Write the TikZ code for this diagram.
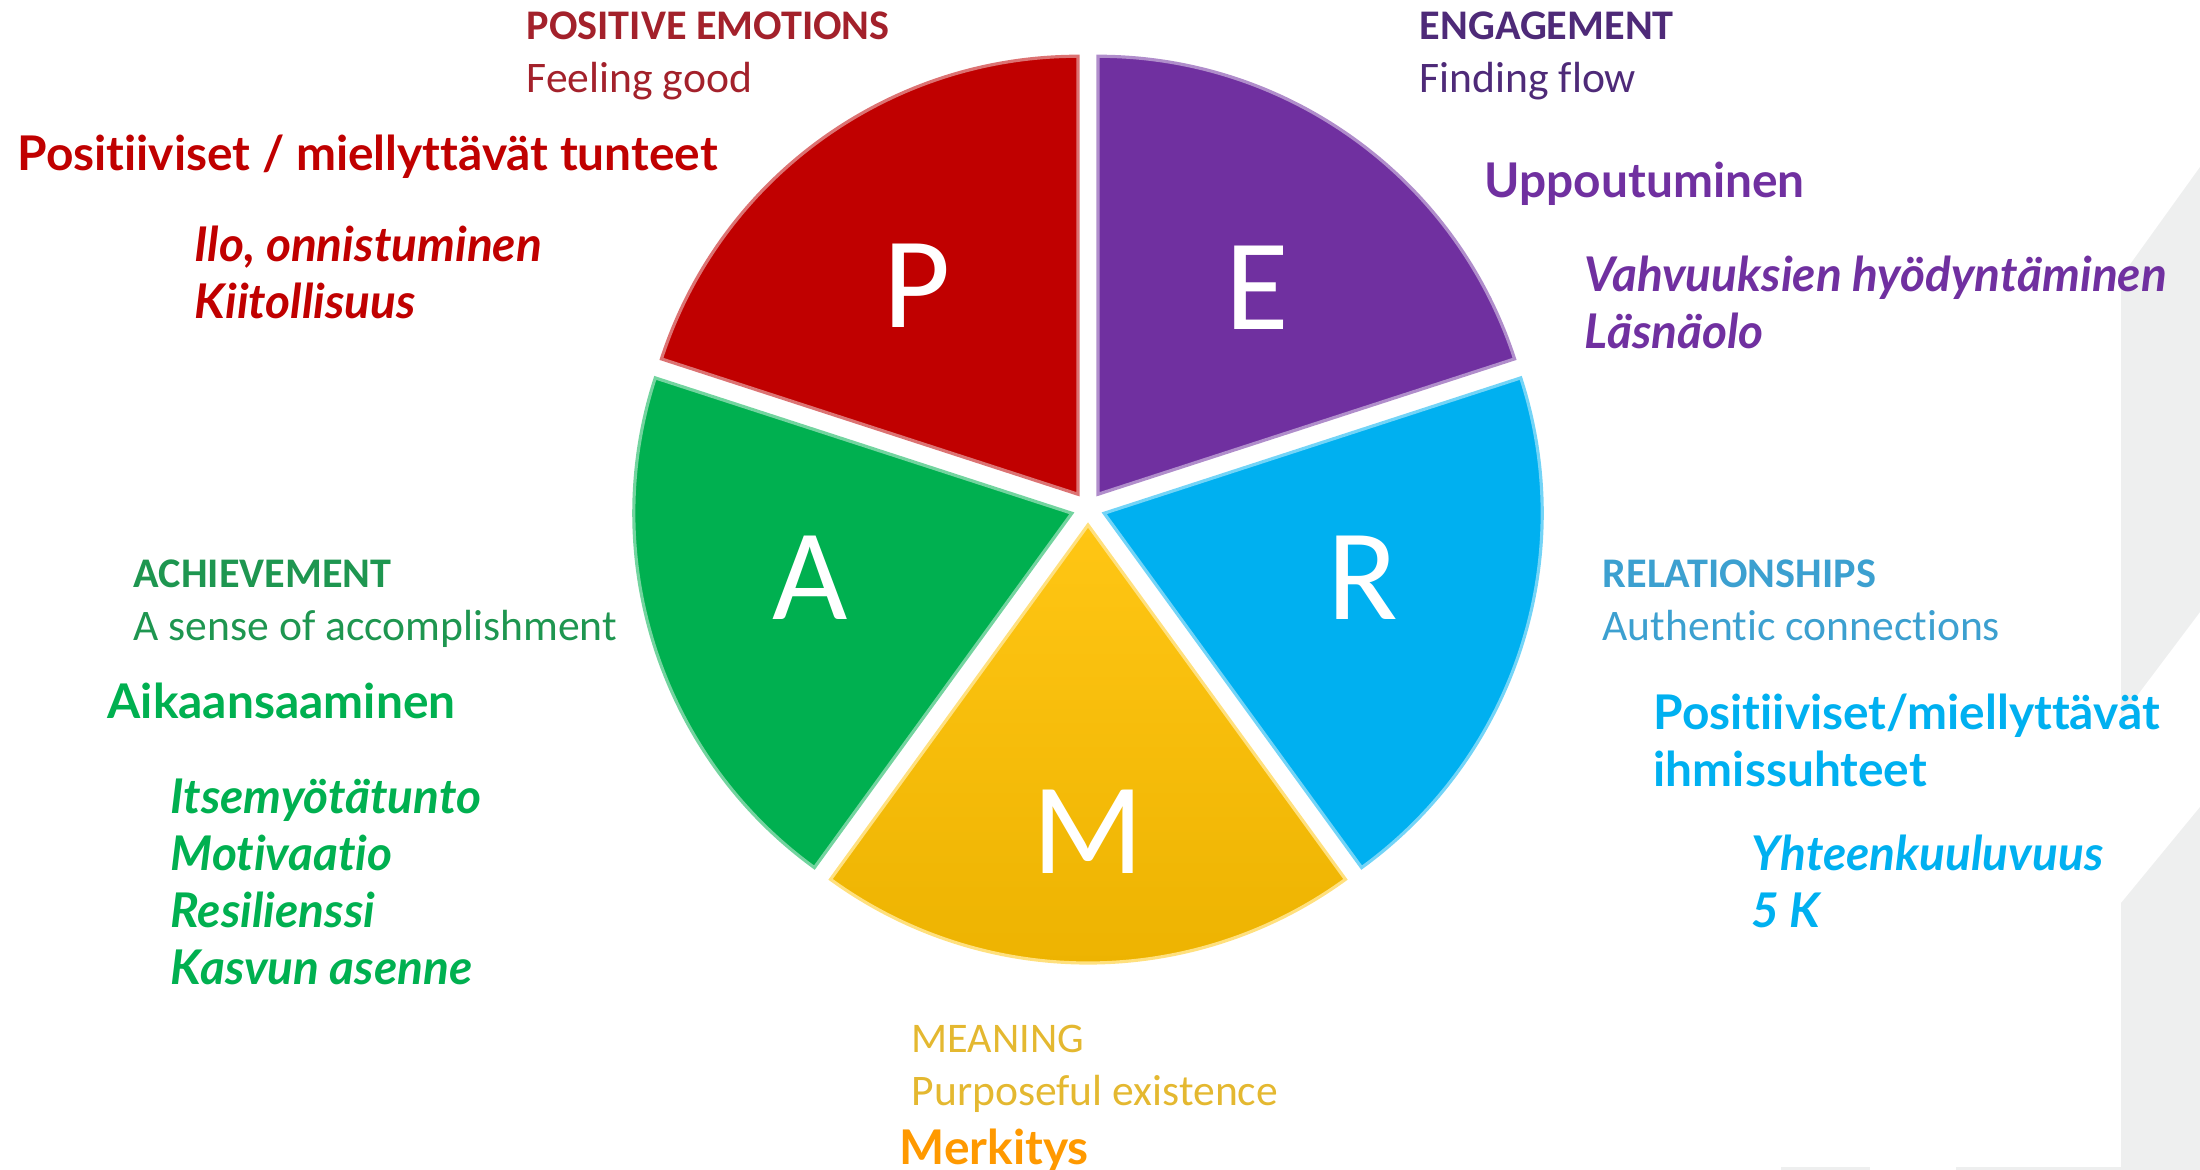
\documentclass[tikz,border=0pt]{standalone}
\usepackage{fontspec}
\setmainfont{Carlito}[Ligatures=NoCommon]
\newfontfamily\latofont{Lato}[Ligatures=NoCommon]
\usetikzlibrary{calc}
\definecolor{pcolor}{RGB}{192,0,0}
\definecolor{ecolor}{RGB}{112,48,160}
\definecolor{rcolor}{RGB}{0,176,240}
\definecolor{mcolor}{RGB}{255,198,20}
\definecolor{mdark}{RGB}{236,178,0}
\definecolor{acolor}{RGB}{0,176,80}
\definecolor{merkcolor}{RGB}{255,153,0}
\definecolor{phead}{RGB}{163,33,43}
\definecolor{ehead}{RGB}{78,42,120}
\definecolor{ahead}{RGB}{30,150,80}
\definecolor{rhead}{RGB}{60,160,208}
\definecolor{mhead}{RGB}{228,184,48}
\definecolor{logogray}{RGB}{238,239,239}

\begin{document}
\begin{tikzpicture}[
    x=0.01cm, y=-0.01cm,
    slice/.style={draw=#1!55!white, line width=0.9pt, fill=#1},
    letter/.style={text=white, font=\fontsize{37}{40}\selectfont},
    head/.style={anchor=base west, inner sep=0, font=\bfseries\fontsize{12}{14}\selectfont},
    sub/.style={anchor=base west, inner sep=0, font=\fontsize{12.4}{14}\selectfont},
    fin/.style={anchor=base west, inner sep=0, align=left, font=\latofont\bfseries\fontsize{13.6}{16.2}\selectfont},
    finit/.style={fin, font=\latofont\bfseries\itshape\fontsize{13.6}{16.2}\selectfont}
]
    \useasboundingbox (0,0) rectangle (2200,1170);

    % Grey logo shapes at the right edge
    \fill[logogray] (2121,277) -- (2200,167) -- (2200,612) -- (2121,717) -- cycle;
    \fill[logogray] (2121,903) -- (2200,807) -- (2200,1170) -- (2121,1170) -- cycle;
    \fill[logogray] (1956,1167) rectangle (2121,1170);
    \fill[logogray] (1781,1167) rectangle (1870,1170);

    % PERMA pie, every slice pushed out a little from the centre
    \begin{scope}[shift={(1088,508)}, y=0.01cm]
        \foreach \col/\a in {pcolor/90, ecolor/18, rcolor/-54, acolor/162} {
            \path[slice=\col] ({\a+36}:17) -- ++(\a:438) arc (\a:\a+72:438) -- cycle;
        }
        \path[slice=mcolor, top color=mcolor, bottom color=mdark]
            (-90:17) -- ++(-126:438) arc (-126:-54:438) -- cycle;
    \end{scope}

    % Slice letters
    \node[letter] (P) at (917,286) {P};
    \node[letter] (E) at (1257,288) {E};
    \node[letter] (R) at (1363,578) {R};
    \node[letter] (M) at (1088,832) {M};
    \node[letter] (A) at (810,578) {A};

    % Positive emotions (multi-line nodes sit on the baseline of their last line)
    \node[head, text=phead] (ptitle) at (526,40) {POSITIVE EMOTIONS};
    \node[sub, text=phead] (psub) at (526,93) {Feeling good};
    \node[fin, text=pcolor] (pfin) at (17,170) {Positiiviset / miellyttävät tunteet};
    \node[finit, text=pcolor] (plist) at (194,318) {Ilo, onnistuminen\\Kiitollisuus};

    % Engagement
    \node[head, text=ehead] (etitle) at (1419,40) {ENGAGEMENT};
    \node[sub, text=ehead] (esub) at (1419,93) {Finding flow};
    \node[fin, text=ecolor] (efin) at (1484,198) {Uppoutuminen};
    \node[finit, text=ecolor] (elist) at (1584,348) {Vahvuuksien hyödyntäminen\\Läsnäolo};

    % Achievement
    \node[head, text=ahead] (atitle) at (133,587) {ACHIEVEMENT};
    \node[sub, text=ahead] (asub) at (133,640) {A sense of accomplishment};
    \node[fin, text=acolor] (afin) at (107,718) {Aikaansaaminen};
    \node[finit, text=acolor] (alist) at (170,984) {Itsemyötätunto\\Motivaatio\\Resilienssi\\Kasvun asenne};

    % Relationships
    \node[head, text=rhead] (rtitle) at (1602,587) {RELATIONSHIPS};
    \node[sub, text=rhead] (rsub) at (1602,640) {Authentic connections};
    \node[fin, text=rcolor] (rfin) at (1653,786) {Positiiviset/miellyttävät\\ihmissuhteet};
    \node[finit, text=rcolor] (rlist) at (1751,927) {Yhteenkuuluvuus\\5 K};

    % Meaning
    \node[head, text=mhead, font=\fontsize{12}{14}\selectfont] (mtitle) at (911,1052) {MEANING};
    \node[sub, text=mhead] (msub) at (911,1105) {Purposeful existence};
    \node[fin, text=merkcolor] (mfin) at (899,1164) {Merkitys};
\end{tikzpicture}
\end{document}
